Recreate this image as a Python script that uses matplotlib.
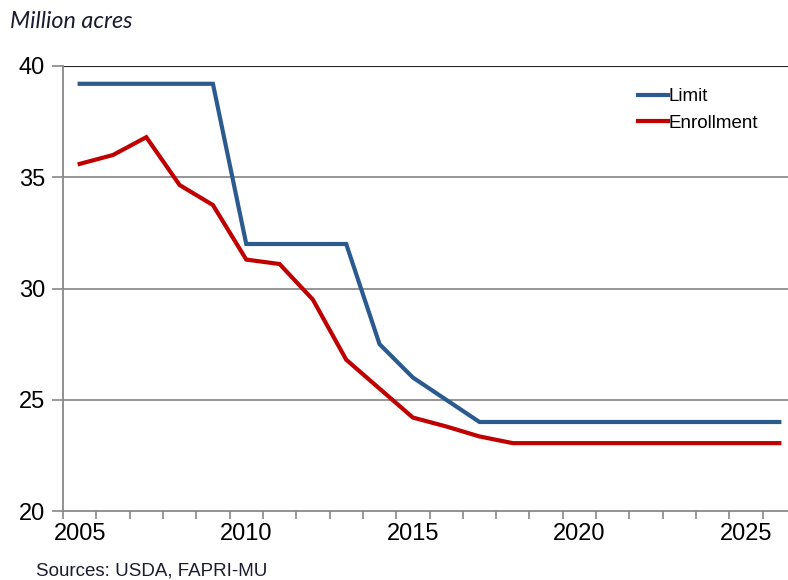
import matplotlib.pyplot as plt
import numpy as np

years = list(range(2005, 2027))
limit = [39.2, 39.2, 39.2, 39.2, 39.2, 32.0, 32.0, 32.0, 32.0, 27.5, 26.0,
         25.0, 24.0, 24.0, 24.0, 24.0, 24.0, 24.0, 24.0, 24.0, 24.0, 24.0]
enrollment = [35.6, 36.0, 36.8, 34.65, 33.75, 31.3, 31.1, 29.5, 26.8, 25.5, 24.2,
              23.8, 23.35, 23.05, 23.05, 23.05, 23.05, 23.05, 23.05, 23.05, 23.05, 23.05]
xlabels = [2005, 2010, 2015, 2020, 2025]
ylabels = [20, 25, 30, 35, 40]

plt.rcParams['font.family'] = ['Liberation Sans', 'DejaVu Sans']

fig = plt.figure(figsize=(7.88, 5.8), dpi=100)
ax = fig.add_axes([63 / 788, 1 - 511 / 580, 733 / 788, 445 / 580])

ax.plot(years, limit, color='#2B5B8E', lw=3, label='Limit', solid_joinstyle='miter')
ax.plot(years, enrollment, color='#C00000', lw=3, label='Enrollment', solid_joinstyle='miter')

ax.set_xlim(2004.5, 2026.5)
ax.set_ylim(20, 40)

# category-style axis: ticks between years, labels on the years
ax.set_xticks(np.arange(2004.5, 2027, 1))
ax.set_xticklabels([])
ax.set_xticks(xlabels, minor=True)
ax.set_xticklabels([str(y) for y in xlabels], minor=True, fontsize=17)
ax.tick_params(axis='x', which='major', direction='out', length=6, width=1.2, color='#888888')
ax.tick_params(axis='x', which='minor', length=0, pad=9)

ax.set_yticks(ylabels)
ax.set_yticklabels([str(y) for y in ylabels], fontsize=17)
ax.tick_params(axis='y', direction='out', length=8, width=1.2, color='#888888', pad=5)

for y in [25, 30, 35]:
    ax.axhline(y, color='#8c8c8c', lw=1.3, zorder=0)
ax.axhline(40, color='#222222', lw=1.5, zorder=0)

for s in ['top', 'right']:
    ax.spines[s].set_visible(False)
ax.spines['left'].set_color('#888888')
ax.spines['left'].set_linewidth(1.3)
ax.spines['bottom'].set_color('#888888')
ax.spines['bottom'].set_linewidth(1.3)

leg = ax.legend(loc='upper left', bbox_to_anchor=(575 / 733, 0.95), frameon=False,
                fontsize=13.5, handlelength=1.6, handletextpad=0.05, labelspacing=0.5,
                borderaxespad=0, borderpad=0)

fig.text(10 / 788, 1 - 22 / 580, 'Million acres', fontsize=16.8, style='italic',
         family=['Lato', 'DejaVu Sans'], color='#1c1c30', va='center', ha='left')
fig.text(36 / 788, 1 - 571 / 580, 'Sources: USDA, FAPRI-MU', fontsize=13.5,
         color='#1c1c30', va='center', ha='left')

fig.savefig('out.png', dpi=100)
